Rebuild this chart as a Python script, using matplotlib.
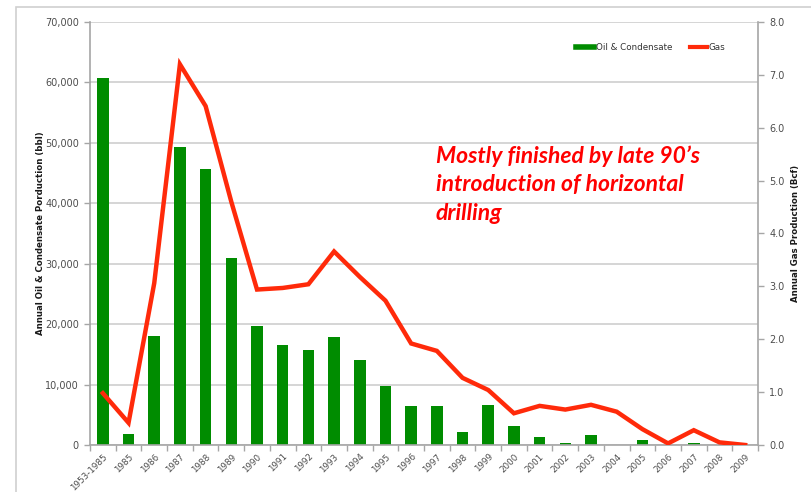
import matplotlib
matplotlib.use("Agg")
import matplotlib.pyplot as plt
from matplotlib.lines import Line2D
from matplotlib.patches import Rectangle
from matplotlib.ticker import FuncFormatter, FixedLocator

categories = ["1953-1985", "1985", "1986", "1987", "1988", "1989", "1990", "1991",
              "1992", "1993", "1994", "1995", "1996", "1997", "1998", "1999",
              "2000", "2001", "2002", "2003", "2004", "2005", "2006", "2007",
              "2008", "2009"]
oil_bbl = [60700, 1900, 18100, 49300, 45600, 30900, 19700, 16600,
           15700, 17900, 14100, 9700, 6400, 6400, 2200, 6700,
           3100, 1300, 400, 1650, 0, 900, 0, 400,
           0, 0]
gas_bcf = [0.98, 0.42, 3.06, 7.20, 6.41, 4.60, 2.94, 2.97,
           3.04, 3.66, 3.18, 2.73, 1.92, 1.78, 1.27, 1.04,
           0.60, 0.74, 0.67, 0.76, 0.63, 0.30, 0.03, 0.28,
           0.05, 0.00]
oil_ticks = [0, 10000, 20000, 30000, 40000, 50000, 60000, 70000]
gas_ticks = [0, 1, 2, 3, 4, 5, 6, 7, 8]

GREEN = "#008c00"
RED = "#ff2a0a"
GRAY = "#a6a6a6"
TXT = "#4d4d4d"

fig = plt.figure(figsize=(8.11, 4.92), dpi=100)
W, H = 811, 492
ax = fig.add_axes([90 / W, 1 - 445 / H, (758 - 90) / W, (445 - 22) / H])

# outer chart border
fig.patches.append(Rectangle((16 / W, -0.1), 2.0, (1 - 7 / H) + 0.1, transform=fig.transFigure,
                             fill=False, edgecolor="#d0d0d0", linewidth=1.2))

x = list(range(len(categories)))
ax.bar(x, oil_bbl, width=0.45, color=GREEN, zorder=2)
ax.set_xlim(-0.5, len(categories) - 0.5)
ax.set_ylim(0, 70000)
ax.set_yticks(oil_ticks)
ax.yaxis.set_major_formatter(FuncFormatter(lambda v, p: f"{int(v):,}"))
ax.set_axisbelow(True)
ax.grid(axis="y", color="#d2d2d2", linewidth=1.3)

ax.set_xticks(x)
ax.set_xticklabels(categories, rotation=45, ha="right", va="top",
                   rotation_mode="anchor", fontsize=6.3, color=TXT)
ax.tick_params(axis="x", which="major", length=0, pad=5)
ax.xaxis.set_minor_locator(FixedLocator([i - 0.5 for i in range(len(categories) + 1)]))
ax.tick_params(axis="x", which="minor", length=4, color=GRAY, width=1)
ax.tick_params(axis="y", length=4, color=GRAY, width=1, labelsize=7, labelcolor=TXT, pad=4)

for s in ["top", "right"]:
    ax.spines[s].set_visible(False)
for s in ["left", "bottom"]:
    ax.spines[s].set_color(GRAY)
    ax.spines[s].set_linewidth(1.2)

ax.set_ylabel("Annual Oil & Condensate Porduction (bbl)", fontsize=6.2,
              fontweight="bold", color="#1a1a1a", labelpad=0)

ax2 = ax.twinx()
ax2.plot(x, gas_bcf, color=RED, linewidth=3.2, solid_joinstyle="miter", zorder=3)
ax2.set_ylim(0, 8)
ax2.set_yticks(gas_ticks)
ax2.yaxis.set_major_formatter(FuncFormatter(lambda v, p: f"{v:.1f}"))
ax2.tick_params(axis="y", length=4, color=GRAY, width=1, labelsize=7, labelcolor=TXT, pad=4)
for s in ["top", "left", "bottom"]:
    ax2.spines[s].set_visible(False)
ax2.spines["right"].set_color(GRAY)
ax2.spines["right"].set_linewidth(1.2)
ax2.set_ylabel("Annual Gas Production (Bcf)", fontsize=6.2, fontweight="bold",
               color="#1a1a1a", labelpad=5)

handles = [Line2D([], [], color=GREEN, linewidth=4),
           Line2D([], [], color=RED, linewidth=3)]
fig.legend(handles, ["Oil & Condensate", "Gas"], loc="center",
           bbox_to_anchor=(651 / W, 1 - 48 / H), ncol=2, frameon=False,
           fontsize=6.3, handlelength=2.0, handletextpad=0.2, columnspacing=2.0,
           labelcolor="#333333")

fig.text(436 / W, 1 - 145 / H,
         "Mostly finished by late 90\u2019s\nintroduction of horizontal\ndrilling",
         ha="left", va="top", color="#ff0000", fontsize=16.5, fontweight="bold",
         fontstyle="italic", family=["Lato", "DejaVu Sans"], linespacing=1.45)

fig.savefig("out.png", dpi=100)
